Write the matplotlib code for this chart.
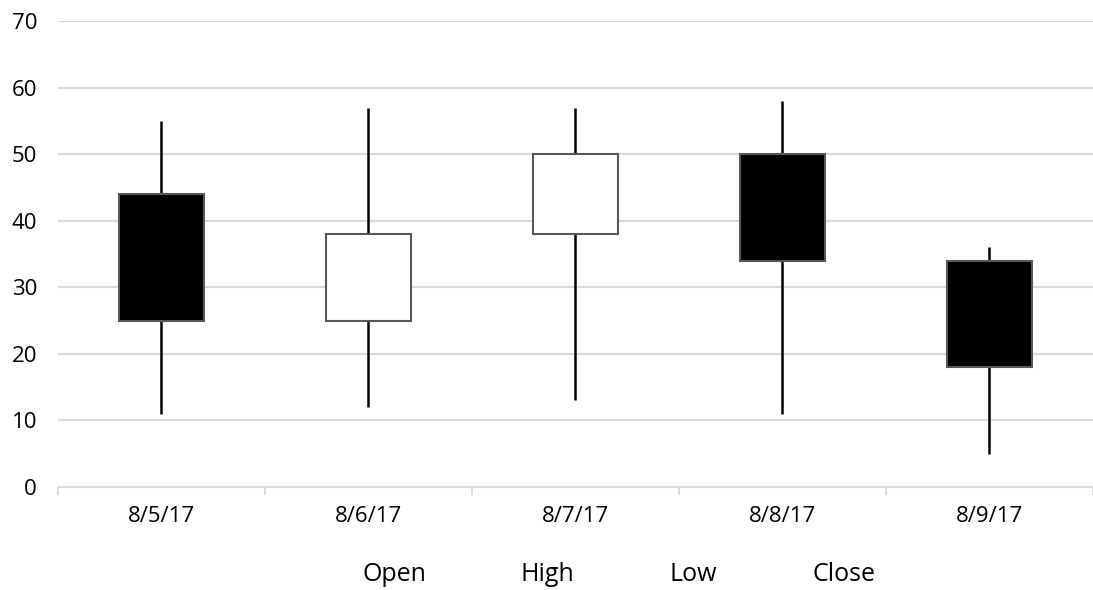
import matplotlib
matplotlib.use("Agg")
import matplotlib.pyplot as plt
from matplotlib.lines import Line2D
import numpy as np

plt.rcParams['font.family'] = ['Open Sans', 'DejaVu Sans']

dates = ["8/5/17", "8/6/17", "8/7/17", "8/8/17", "8/9/17"]
open_ = [44, 25, 38, 50, 34]
high = [55, 57, 57, 58, 36]
low = [11, 12, 13, 11, 5]
close = [25, 38, 50, 34, 18]
series_names = ["Open", "High", "Low", "Close"]
yticks = [0, 10, 20, 30, 40, 50, 60, 70]

fig = plt.figure(figsize=(10.93, 5.90), dpi=100)
ax = fig.add_axes([0.053, 0.1746, 0.947, 0.7898])

x = np.arange(len(dates))
width = 0.41
for i in range(len(dates)):
    o, h, l, c = open_[i], high[i], low[i], close[i]
    lo_b, hi_b = min(o, c), max(o, c)
    ax.vlines(x[i], hi_b, h, color="black", lw=1.8, zorder=2)
    ax.vlines(x[i], l, lo_b, color="black", lw=1.8, zorder=2)
    face = "black" if c < o else "white"
    ax.bar(x[i], hi_b - lo_b, bottom=lo_b, width=width, color=face,
           edgecolor="#595959", linewidth=1.5, zorder=3)

ax.set_xlim(-0.5, len(dates) - 0.5)
ax.set_ylim(0, 70)
ax.set_yticks(yticks)
ax.set_xticks(x)
ax.set_xticklabels(dates)
ax.set_xticks(np.arange(-0.5, len(dates), 1.0), minor=True)
ax.tick_params(axis="x", which="major", length=0, pad=14, labelsize=16)
ax.tick_params(axis="x", which="minor", length=6, color="#d9d9d9", width=1.3)
ax.tick_params(axis="y", length=0, pad=15, labelsize=16)
ax.grid(axis="y", color="#d9d9d9", lw=1.5, zorder=0)
ax.set_axisbelow(True)
for s in ["top", "right", "left"]:
    ax.spines[s].set_visible(False)
ax.spines["bottom"].set_color("#d9d9d9")
ax.spines["bottom"].set_linewidth(1.5)

handles = [Line2D([], [], lw=0, marker=None) for _ in series_names]
fig.legend(handles, series_names, loc="center", bbox_to_anchor=(0.566, 0.027),
           ncol=4, frameon=False, handlelength=0, handletextpad=0,
           columnspacing=3.8, fontsize=18)

fig.savefig("out.png", dpi=100)
